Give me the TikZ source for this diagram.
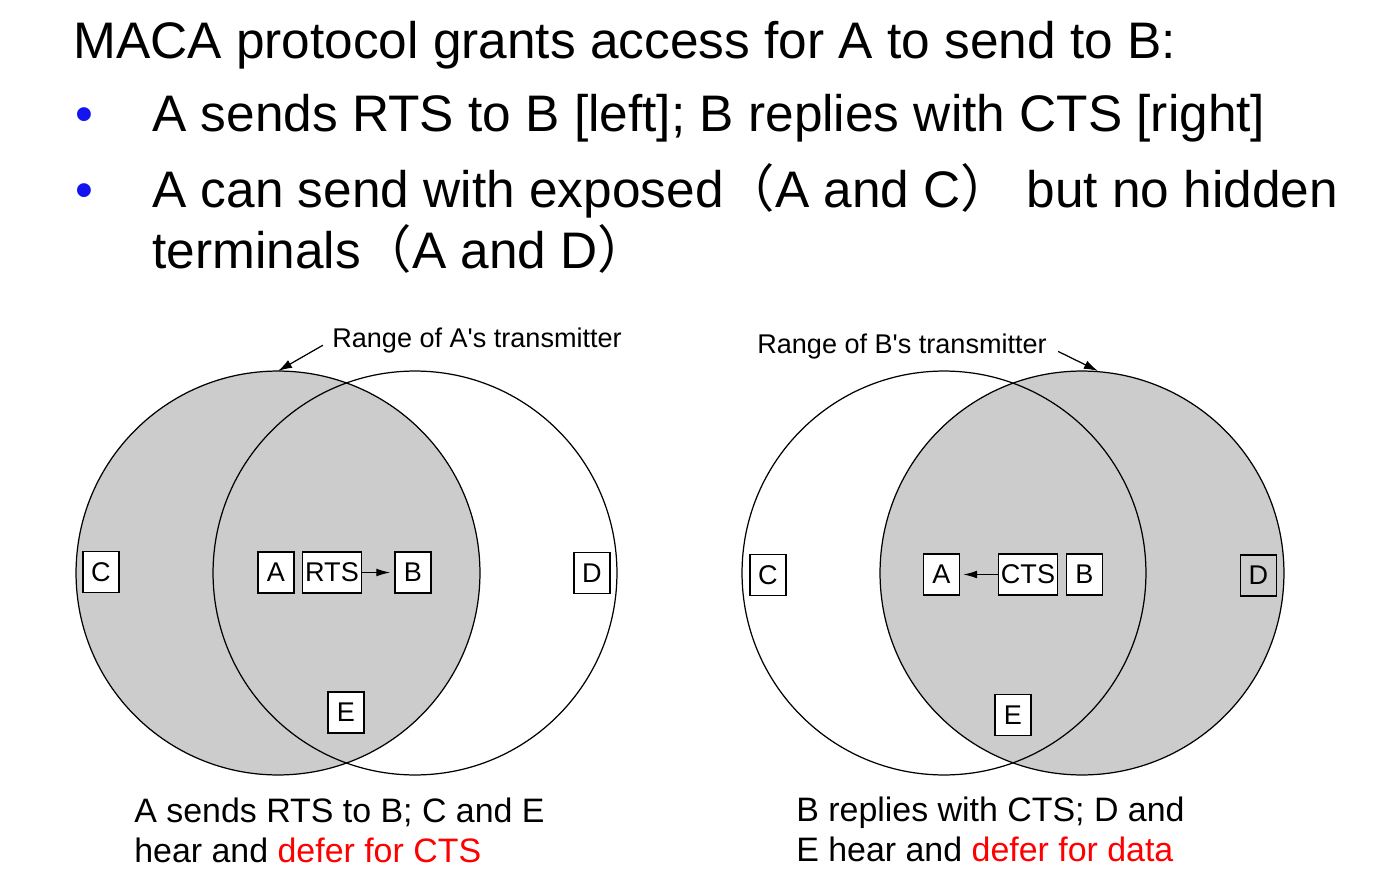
\documentclass[tikz,border=0pt]{standalone}
\usepackage{fontspec}
\setmainfont{Liberation Sans}
\newfontfamily\cjk{Noto Sans CJK SC}
\usetikzlibrary{arrows.meta}
\definecolor{rangegray}{HTML}{CCCCCC}
\definecolor{bulletblue}{HTML}{1414F0}
\begin{document}
\begin{tikzpicture}[x=0.02cm,y=-0.02cm,
  every node/.style={inner sep=0pt},
  headline/.style={anchor=base west, font=\fontsize{29.25pt}{35pt}\selectfont},
  bulletmark/.style={anchor=base, text=bulletblue, font=\fontsize{29pt}{35pt}\selectfont},
  caption/.style={anchor=base west, font=\fontsize{19.3pt}{23pt}\selectfont},
  rangelabel/.style={anchor=base west, font=\fontsize{15.4pt}{18pt}\selectfont},
  station/.style={draw, fill=white, line width=0.75pt, minimum width=0.72cm,
    minimum height=0.82cm, inner sep=1.5pt, font=\fontsize{15.4pt}{18pt}\selectfont},
  rangeline/.style={line width=0.7pt},
  msgarrow/.style={line width=0.75pt, -{Latex[length=8pt,width=4.5pt]}},
  lblarrow/.style={line width=0.7pt, -{Latex[length=8pt,width=5pt]}}
]
\fill[white] (0,0) rectangle (1374,879);
\useasboundingbox (0,0) rectangle (1374,879);

% heading and bullet points
\node[headline] (title) at (73,58) {MACA protocol grants access for A to send to B:};
\node[bulletmark] (b1) at (84,131) {•};
\node[headline] (l1) at (152,131) {A sends RTS to B [left]; B replies with CTS [right]};
\node[bulletmark] (b2) at (84,207) {•};
\node[headline] (l2) at (152,207) {A can send with exposed{\cjk （}A and C{\cjk ）} but no hidden};
\node[headline] (l3) at (152,268) {terminals{\cjk （}A and D{\cjk ）}};

% left: A transmits RTS
\fill[rangegray] (278,573) circle[radius=4.04cm];
\draw[rangeline] (278,573) circle[radius=4.04cm];
\draw[rangeline] (415,573) circle[radius=4.04cm];
\coordinate (topA) at (278,371);
\node[rangelabel] (lblA) at (332,347) {Range of A\textquotesingle s transmitter};
\draw[lblarrow, shorten <=6pt] (lblA.west) -- (topA);

\node[station] (lC) at (101,572) {C};
\node[station] (lA) at (276,572.5) {A};
\node[station] (lRTS) at (332,572.5) {RTS};
\node[station] (lB) at (413,572.5) {B};
\node[station] (lD) at (592,573) {D};
\node[station] (lE) at (346,712.5) {E};
\draw[msgarrow, shorten >=2.3pt] (lRTS) -- (lB);

\node[caption] (capL1) at (134,822) {A sends RTS to B; C and E};
\node[caption] (capL2) at (134,862) {hear and \textcolor{red}{defer for CTS}};

% right: B answers with CTS
\fill[rangegray] (1082,573) circle[radius=4.04cm];
\draw[rangeline] (944,573) circle[radius=4.04cm];
\draw[rangeline] (1082,573) circle[radius=4.04cm];
\coordinate (topB) at (1098,371);
\node[rangelabel] (lblB) at (757,353) {Range of B\textquotesingle s transmitter};
\draw[lblarrow, shorten <=7pt] (lblB.east) -- (topB);

\node[station] (rC) at (768,575) {C};
\node[station] (rA) at (941.5,574.5) {A};
\node[station] (rCTS) at (1028,574.5) {CTS};
\node[station] (rB) at (1084.5,574.5) {B};
\node[station, fill=rangegray] (rD) at (1258.5,575.5) {D};
\node[station] (rE) at (1013,715) {E};
\draw[msgarrow, shorten >=1.7pt] (rCTS) -- (rA);

\node[caption] (capR1) at (796,821) {B replies with CTS; D and};
\node[caption] (capR2) at (796,861) {E hear and \textcolor{red}{defer for data}};
\end{tikzpicture}
\end{document}
